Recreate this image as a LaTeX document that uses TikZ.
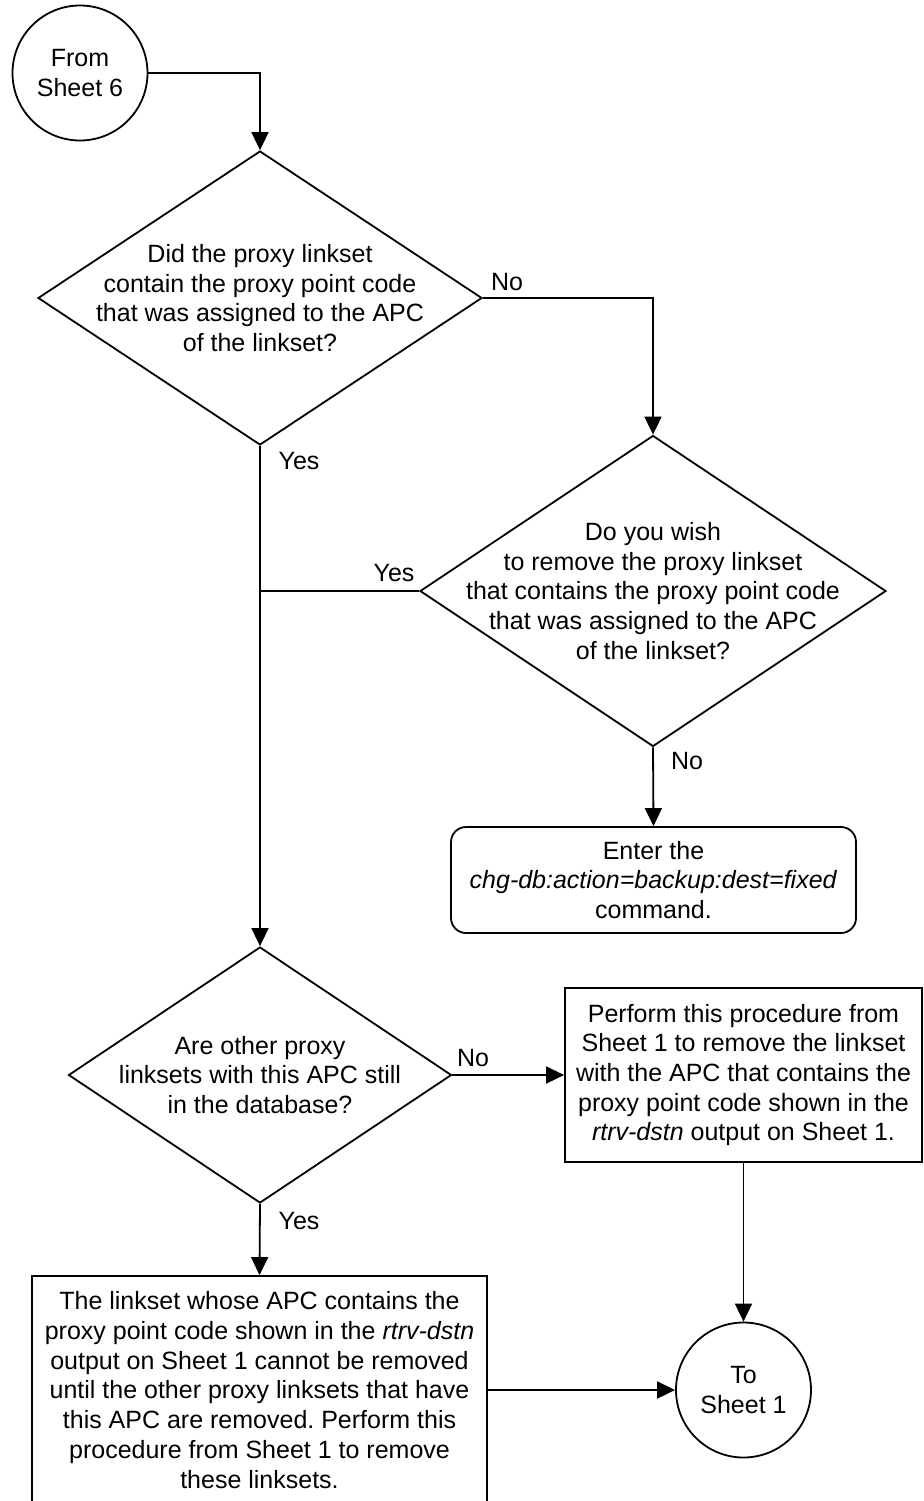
\documentclass[tikz,border=0pt]{standalone}
\usepackage{fontspec}
\setmainfont{Liberation Sans}
\usetikzlibrary{shapes.geometric,arrows.meta}
\frenchspacing
\begin{document}
\begin{tikzpicture}[x=0.5pt,y=-0.5pt,
  every node/.style={font=\fontsize{12.5}{14.85}\selectfont},
  line/.style={line width=0.9pt, draw=black},
  arr/.style={line, -{Triangle[length=9pt,width=8.5pt]}},
  decision/.style={diamond, draw, line width=0.9pt, inner sep=0pt},
  proc/.style={rectangle, draw, line width=0.9pt, align=center, inner sep=0pt},
  term/.style={circle, draw, line width=0.9pt, align=center, minimum size=67.5pt, inner sep=0pt},
  lbl/.style={inner sep=0pt, anchor=center},
  dtext/.style={align=center, inner sep=0pt}
]
\useasboundingbox (0,0) rectangle (924,1501);
\clip (0,0) rectangle (924,1501);

\node[term] (from) at (80,73) {From\\Sheet 6};

\node[decision, minimum width=222pt, minimum height=147pt,
  label={[dtext]center:Did the proxy linkset\\contain the proxy point code\\that was assigned to the APC\\of the linkset?}] (d1) at (260,298) {};

\node[decision, minimum width=233pt, minimum height=155.5pt,
  label={[dtext]center:Do you wish\\to remove the proxy linkset\\that contains the proxy point code\\that was assigned to the APC\\of the linkset?}] (d2) at (653,591) {};

\node[proc, rounded corners=7.5pt, minimum width=202.5pt, minimum height=53pt] (rb) at (653.5,880)
  {Enter the\\\textit{chg-db:action=backup:dest=fixed}\\command.};

\node[decision, minimum width=191.5pt, minimum height=128pt,
  label={[dtext]center:Are other proxy\\linksets with this APC still\\in the database?}] (d3) at (260,1075) {};

\node[proc, minimum width=178.5pt, minimum height=87pt] (b2) at (743.5,1075)
  {Perform this procedure from\\Sheet 1 to remove the linkset\\with the APC that contains the\\proxy point code shown in the\\\textit{rtrv-dstn} output on Sheet 1.};

\node[proc, minimum width=227.5pt, minimum height=114pt] (b3) at (259.5,1390)
  {The linkset whose APC contains the\\proxy point code shown in the \textit{rtrv-dstn}\\output on Sheet 1 cannot be removed\\until the other proxy linksets that have\\this APC are removed. Perform this\\procedure from Sheet 1 to remove\\these linksets.};

\node[term] (to) at (743.5,1390) {To\\Sheet 1};

\coordinate (j1) at (d1.south |- d2.west);

\draw[arr] (from.east) -| (d1.north);
\draw[arr] (d1.east) -| (d2.north);
\draw[arr] (d1.south) -- (d3.north);
\draw[line] (d2.west) -- (j1);
\draw[arr] (d2.south) -- (rb.north);
\draw[arr] (d3.east) -- (b2.west);
\draw[arr] (d3.south) -- (b3.north);
\draw[arr] (b2.south) -- (to.north);
\draw[arr] (b3.east) -- (to.west);

\node[lbl] (no1) at (507,282) {No};
\node[lbl] (yes1) at (299,461) {Yes};
\node[lbl] (yes2) at (394,573) {Yes};
\node[lbl] (no2) at (687,761) {No};
\node[lbl] (no3) at (473,1058) {No};
\node[lbl] (yes3) at (299,1221) {Yes};
\end{tikzpicture}
\end{document}
